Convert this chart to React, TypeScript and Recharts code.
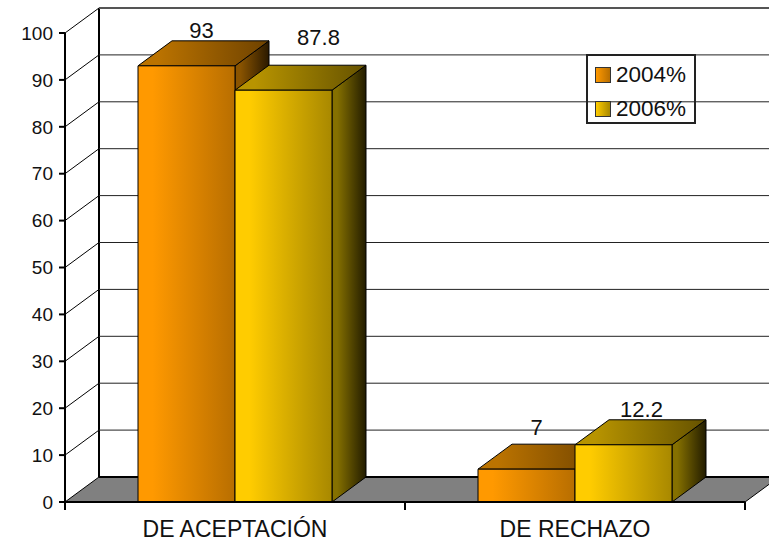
import {
  Bar,
  BarChart,
  LabelList,
  Legend,
  ReferenceArea,
  ReferenceLine,
  XAxis,
  YAxis,
} from "recharts";

const categories = ["DE ACEPTACIÓN", "DE RECHAZO"];
const values2004 = [93, 7];
const values2006 = [87.8, 12.2];
const yTicks = [0, 10, 20, 30, 40, 50, 60, 70, 80, 90, 100];

const data = categories.map((name, i) => ({
  name,
  "2004%": values2004[i],
  "2006%": values2006[i],
}));

// 3D look of the old chart: how far the back wall sits from the front plane
const DX = 34;
const DY = 25;
const FONT = "'Liberation Sans', Arial, sans-serif";

// the value labels are hand placed in the original: shift from bar centre / bar top
const labelShift2004 = [
  { dx: 15, dy: -28 },
  { dx: 10, dy: -34 },
];
const labelShift2006 = [
  { dx: 35, dy: -45 },
  { dx: 18, dy: -28 },
];

const palette: Record<string, string[]> = {
  "2004%": ["#ff9900", "#b86e00"],
  "2006%": ["#ffcc00", "#a88800"],
};

function Shades({ id, front, top, side }: { id: string; front: string[]; top: string[]; side: string[] }) {
  const grad = (suffix: string, c: string[]) => (
    <linearGradient id={`${id}-${suffix}`} x1="0" y1="0" x2="1" y2="0">
      <stop offset="0.15" stopColor={c[0]} />
      <stop offset="1" stopColor={c[1]} />
    </linearGradient>
  );
  return (
    <>
      {grad("front", front)}
      {grad("top", top)}
      {grad("side", side)}
    </>
  );
}

function Box3D(props: any) {
  const { x, y, width, height, shade } = props;
  const r = x + width;
  const b = y + height;
  return (
    <g stroke="#000" strokeWidth={1} strokeLinejoin="round">
      <polygon
        points={`${r},${y} ${r + DX},${y - DY} ${r + DX},${b - DY} ${r},${b}`}
        fill={`url(#${shade}-side)`}
      />
      <polygon
        points={`${x},${y} ${x + DX},${y - DY} ${r + DX},${y - DY} ${r},${y}`}
        fill={`url(#${shade}-top)`}
      />
      <rect x={x} y={y} width={width} height={height} fill={`url(#${shade}-front)`} />
    </g>
  );
}

function Walls(props: any) {
  const { x, y, width, height } = props;
  const b = y + height;
  return (
    <g>
      <polygon
        points={`${x},${b} ${x + DX},${b - DY} ${x + width + DX},${b - DY} ${x + width},${b}`}
        fill="#808080"
      />
      <line x1={x + DX} y1={b - DY} x2={x + width + DX} y2={b - DY} stroke="#000" strokeWidth={2} />
      <line x1={x + width} y1={b} x2={x + width + DX} y2={b - DY} stroke="#000" strokeWidth={1} />
      <line x1={x + DX} y1={y - DY} x2={x + DX} y2={b - DY} stroke="#000" strokeWidth={2} />
      <line x1={x} y1={b} x2={x + DX} y2={b - DY} stroke="#000" strokeWidth={1} />
    </g>
  );
}

function WallLine(props: any) {
  const { x1, x2, y1, top } = props;
  return (
    <g>
      <line x1={x1} y1={y1} x2={x1 + DX} y2={y1 - DY} stroke="#000" strokeWidth={1} />
      <line
        x1={x1 + DX}
        y1={y1 - DY}
        x2={x2 + DX}
        y2={y1 - DY}
        stroke={top ? "#555" : "#222"}
        strokeWidth={top ? 2 : 1}
      />
    </g>
  );
}

function CategoryTick(props: any) {
  const { x, y, payload } = props;
  const half = payload.offset || 170;
  return (
    <g>
      <line x1={x - half} y1={y - 8} x2={x - half} y2={y} stroke="#000" strokeWidth={2} />
      <line x1={x + half} y1={y - 8} x2={x + half} y2={y} stroke="#000" strokeWidth={2} />
      <text x={x} y={y + 27} textAnchor="middle" fontFamily={FONT} fontSize={23} fill="#111">
        {payload.value}
      </text>
    </g>
  );
}

function valueLabel(shifts: { dx: number; dy: number }[]) {
  return (props: any) => {
    const { x, y, width, value, index } = props;
    const s = shifts[index];
    return (
      <text
        x={x + width / 2 + s.dx}
        y={y + s.dy}
        textAnchor="middle"
        fontFamily={FONT}
        fontSize={22}
        fill="#111"
      >
        {value}
      </text>
    );
  };
}

function LegendBox({ payload }: any) {
  return (
    <div
      style={{
        boxSizing: "border-box",
        width: 110,
        height: 70,
        border: "2px solid #222",
        fontFamily: FONT,
        fontSize: 22.5,
        color: "#111",
        position: "relative",
      }}
    >
      {(payload || []).map((entry: any, i: number) => (
        <div
          key={entry.value}
          style={{ position: "absolute", left: 7, top: 6 + i * 34, display: "flex", alignItems: "center", lineHeight: "26px" }}
        >
          <span
            style={{
              boxSizing: "border-box",
              width: 16,
              height: 16,
              marginRight: 5,
              border: "1px solid #333",
              background: `linear-gradient(90deg, ${palette[entry.value][0]}, ${palette[entry.value][1]})`,
            }}
          />
          {entry.value}
        </div>
      ))}
    </div>
  );
}

export default function App() {
  return (
    <div style={{ position: "absolute", left: 0, top: 0, width: 769, height: 542, overflow: "hidden", background: "#fff" }}>
      <BarChart
        width={769}
        height={542}
        data={data}
        margin={{ top: 33, right: 24, left: 0, bottom: 0 }}
        barCategoryGap={73}
        barGap={0}
        style={{ overflow: "hidden" }}
      >
        <defs>
          <Shades
            id="orange"
            front={palette["2004%"]}
            top={["#bb7300", "#6e4200"]}
            side={["#8a5400", "#2a1900"]}
          />
          <Shades
            id="yellow"
            front={palette["2006%"]}
            top={["#b89400", "#655200"]}
            side={["#857000", "#221c00"]}
          />
        </defs>
        <ReferenceArea y1={0} y2={100} shape={<Walls />} ifOverflow="visible" zIndex={100} />
        {yTicks
          .filter((t) => t > 0)
          .map((t) => (
            <ReferenceLine
              key={t}
              y={t}
              ifOverflow="visible"
              zIndex={100}
              shape={(p: any) => <WallLine {...p} top={t === 100} />}
            />
          ))}
        <XAxis
          dataKey="name"
          height={40}
          tickLine={false}
          axisLine={{ stroke: "#000", strokeWidth: 2 }}
          tick={<CategoryTick />}
          interval={0}
        />
        <YAxis
          width={65}
          domain={[0, 100]}
          ticks={yTicks}
          interval={0}
          tickSize={6}
          tickMargin={6}
          axisLine={{ stroke: "#000", strokeWidth: 2 }}
          tickLine={{ stroke: "#000", strokeWidth: 2 }}
          tick={{ fill: "#111", fontSize: 19, fontFamily: FONT }}
        />
        <Legend
          layout="horizontal"
          verticalAlign="middle"
          content={<LegendBox />}
          wrapperStyle={{ left: 586, top: 54, width: 110, height: 70, bottom: "auto" }}
        />
        <Bar dataKey="2004%" isAnimationActive={false} shape={(p: any) => <Box3D {...p} shade="orange" />}>
          <LabelList dataKey="2004%" content={valueLabel(labelShift2004)} />
        </Bar>
        <Bar dataKey="2006%" isAnimationActive={false} shape={(p: any) => <Box3D {...p} shade="yellow" />}>
          <LabelList dataKey="2006%" content={valueLabel(labelShift2006)} />
        </Bar>
      </BarChart>
    </div>
  );
}
